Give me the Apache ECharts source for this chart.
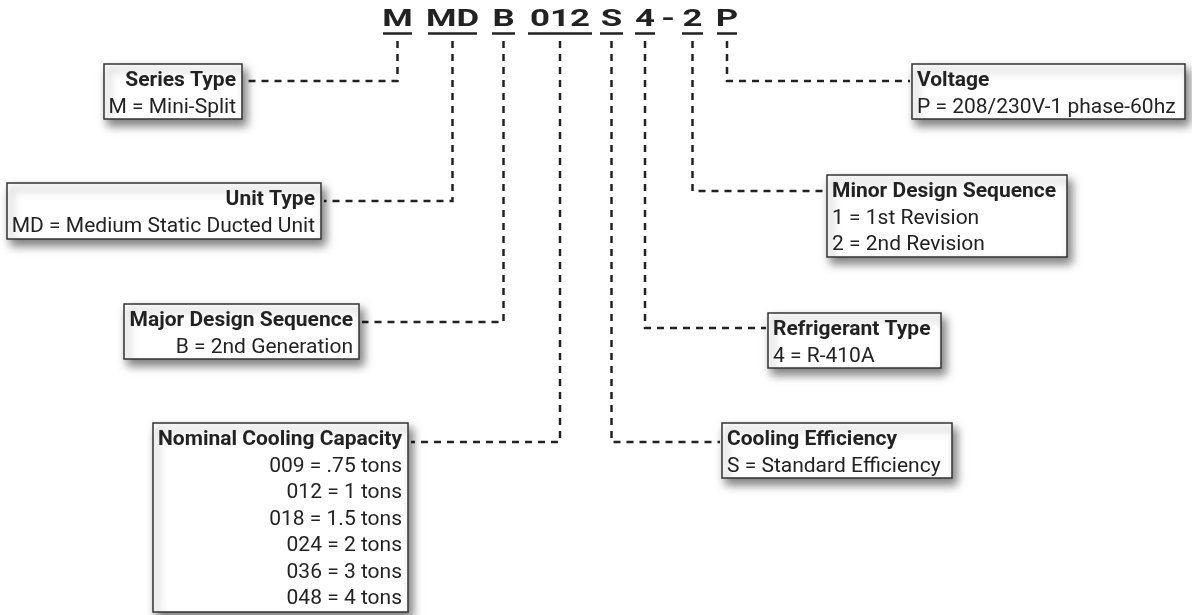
<!DOCTYPE html>
<html>
<head>
<meta charset="utf-8">
<script src="https://cdn.jsdelivr.net/npm/echarts@6/dist/echarts.min.js"></script>
<style>
html, body { margin: 0; padding: 0; background: #fff; }
#chart { width: 1192px; height: 615px; }
</style>
</head>
<body>
<div id="chart"></div>
<script>
// model number, split into its coded parts
const codeParts = ['M', 'MD', 'B', '012', 'S', '4', '-', '2', 'P'];

// what each part means
const fieldTitles = [
    'Series Type',
    'Unit Type',
    'Major Design Sequence',
    'Nominal Cooling Capacity',
    'Cooling Efficiency',
    'Refrigerant Type',
    'Minor Design Sequence',
    'Voltage'
];
const fieldLines = [
    ['M = Mini-Split'],
    ['MD = Medium Static Ducted Unit'],
    ['B = 2nd Generation'],
    ['009 = .75 tons', '012 = 1 tons', '018 = 1.5 tons', '024 = 2 tons', '036 = 3 tons', '048 = 4 tons'],
    ['S = Standard Efficiency'],
    ['4 = R-410A'],
    ['1 = 1st Revision', '2 = 2nd Revision'],
    ['P = 208/230V-1 phase-60hz']
];
// which code part each field points at
const fieldPart = [0, 1, 2, 3, 4, 5, 7, 8];

// layout (page pixels)
const partSpan = [[383, 412], [428, 477], [492, 515], [528, 592], [600, 623], [635, 655], [662, 674], [682, 703], [717, 737]];
const boxRect = [
    [104, 64, 242, 119],
    [7, 183, 321, 239],
    [124, 304, 359, 359],
    [153, 423, 408, 612],
    [722, 423, 952, 478],
    [768, 313, 941, 368],
    [827, 175, 1067, 257],
    [912, 64, 1185, 119]
];
const boxSide = ['left', 'left', 'left', 'left', 'right', 'right', 'right', 'right'];
const linkY = [81, 201, 322, 442, 442, 328, 191, 81];

const INK = '#222';
const FONT = 'Roboto, "Noto Sans", sans-serif';

const chart = echarts.init(document.getElementById('chart'), null, { renderer: 'canvas' });

function headerItem(params, api) {
    const i = params.dataIndex;
    const span = partSpan[i];
    const mid = api.coord([(span[0] + span[1]) / 2, 20]);
    const children = [{
        type: 'text',
        x: mid[0],
        y: mid[1],
        scaleX: 1.45,
        style: {
            text: codeParts[i],
            x: 0,
            y: 0,
            fill: INK,
            font: 'bold 24px ' + FONT,
            align: 'center',
            verticalAlign: 'middle'
        }
    }];
    if (codeParts[i] !== '-') {
        const a = api.coord([span[0], 33.5]);
        const b = api.coord([span[1], 33.5]);
        children.push({
            type: 'line',
            shape: { x1: a[0], y1: a[1], x2: b[0], y2: b[1] },
            style: { stroke: INK, lineWidth: 2.5 }
        });
    }
    return { type: 'group', children: children };
}

function boxItem(params, api) {
    const i = params.dataIndex;
    const r = boxRect[i];
    const span = partSpan[fieldPart[i]];
    const px = (span[0] + span[1]) / 2;
    const left = boxSide[i] === 'left';
    const edge = left ? r[2] + 3 : r[0] - 2;

    const p0 = api.coord([px, 41]);
    const p1 = api.coord([px, linkY[i]]);
    const p2 = api.coord([edge, linkY[i]]);
    const tl = api.coord([r[0], r[1]]);
    const br = api.coord([r[2], r[3]]);

    const children = [{
        type: 'polyline',
        shape: { points: [p0, p1, p2] },
        style: { stroke: INK, lineWidth: 2.5, lineDash: [7, 6], fill: null }
    }, {
        type: 'rect',
        shape: { x: tl[0], y: tl[1], width: br[0] - tl[0], height: br[1] - tl[1] },
        style: {
            fill: '#fff',
            stroke: '#333',
            lineWidth: 1.5,
            shadowBlur: 9,
            shadowOffsetX: 4,
            shadowOffsetY: 6,
            shadowColor: 'rgba(0,0,0,0.5)'
        }
    }];

    const tx = left ? r[2] - 6 : r[0] + 5;
    const rows = [fieldTitles[i]].concat(fieldLines[i]);
    rows.forEach(function (row, k) {
        const p = api.coord([tx, r[1] + 17 + k * 26.5]);
        children.push({
            type: 'text',
            style: {
                text: row,
                x: p[0],
                y: p[1],
                fill: INK,
                font: (k === 0 ? 'bold ' : '') + '21px ' + FONT,
                align: left ? 'right' : 'left',
                verticalAlign: 'middle'
            }
        });
    });
    return { type: 'group', children: children };
}

chart.setOption({
    backgroundColor: '#fff',
    animation: false,
    grid: { left: 0, right: 0, top: 0, bottom: 0 },
    xAxis: { type: 'value', min: 0, max: 1192, show: false },
    yAxis: { type: 'value', min: 0, max: 615, inverse: true, show: false },
    series: [{
        type: 'custom',
        name: 'code',
        renderItem: headerItem,
        data: codeParts.map(function (c, i) { return [partSpan[i][0], 20]; }),
        silent: true
    }, {
        type: 'custom',
        name: 'fields',
        renderItem: boxItem,
        data: fieldTitles.map(function (t, i) { return [boxRect[i][0], boxRect[i][1]]; }),
        silent: true
    }]
});
</script>
</body>
</html>
